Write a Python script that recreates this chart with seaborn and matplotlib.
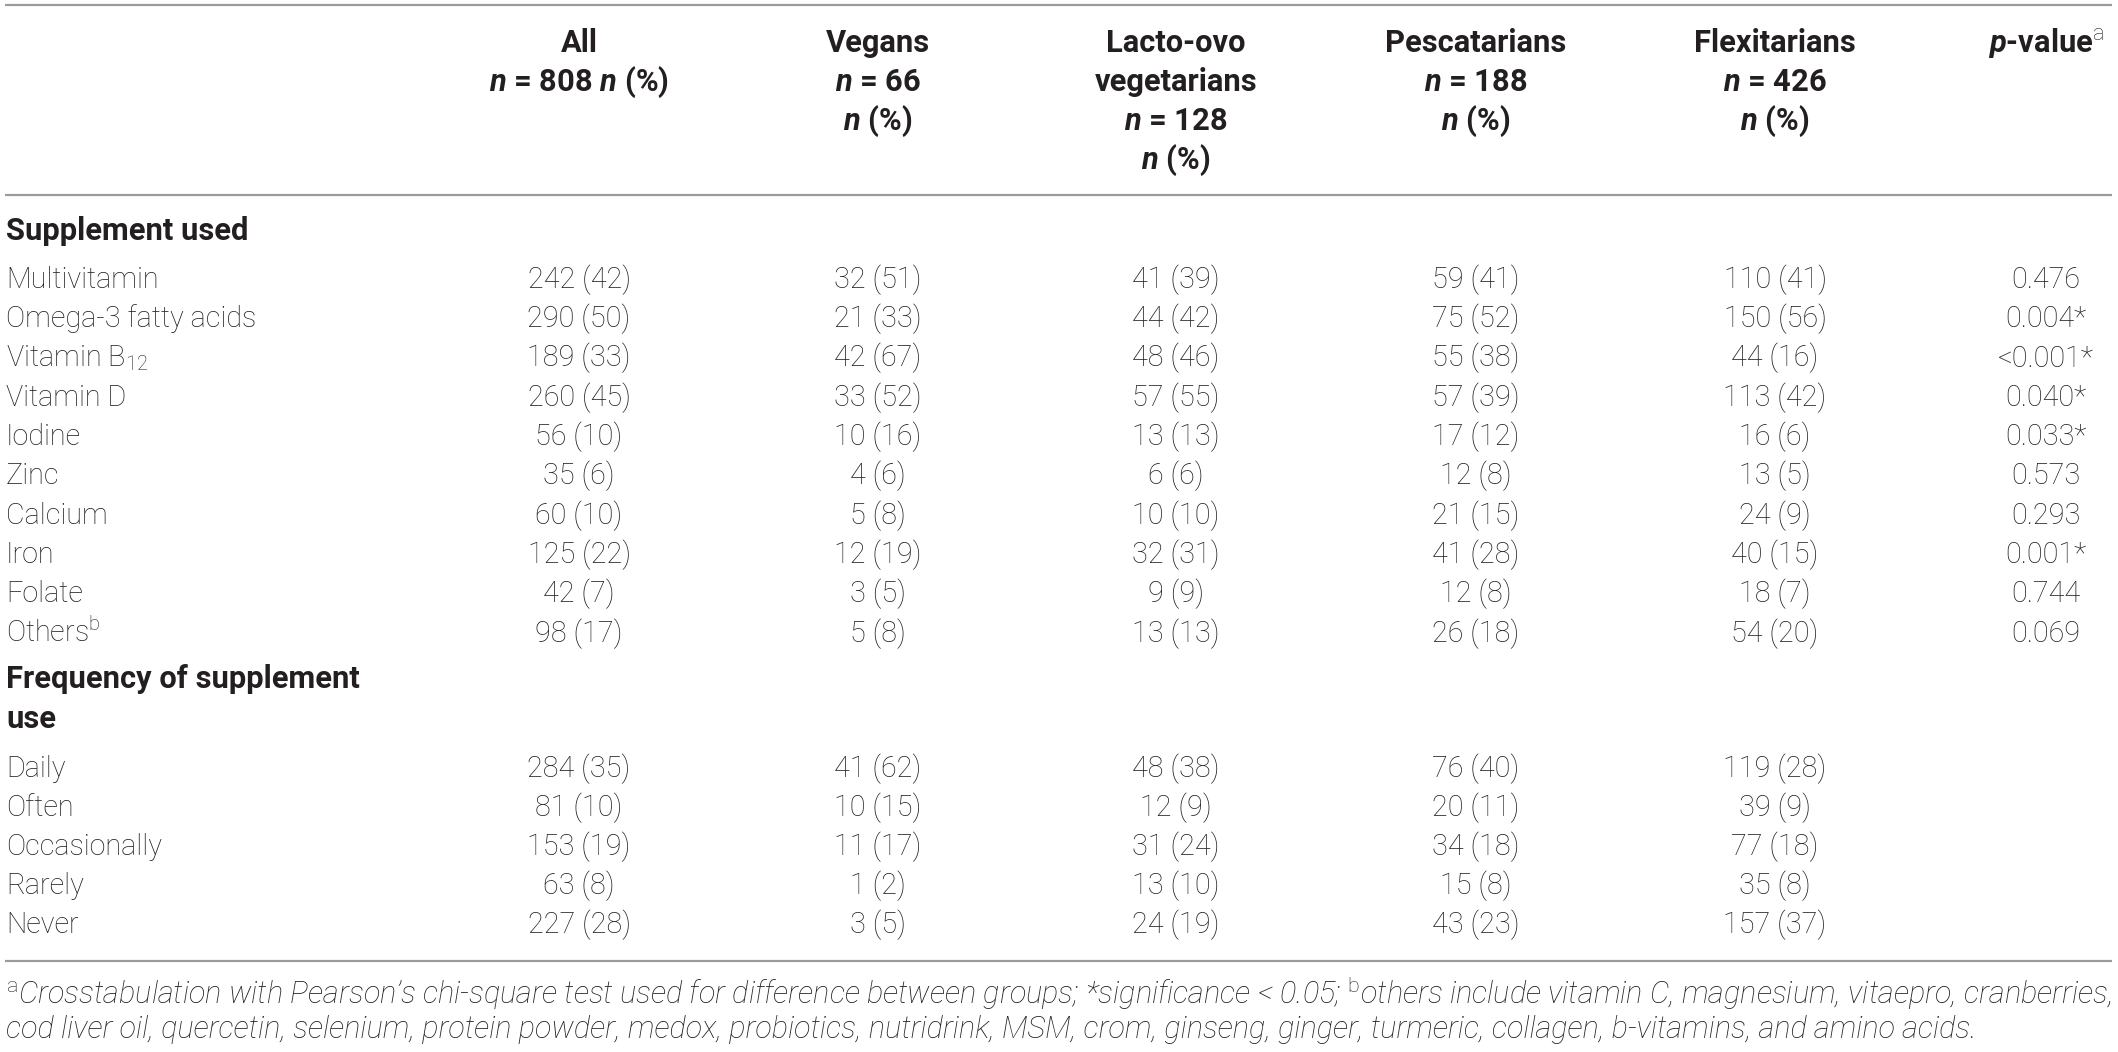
import matplotlib
matplotlib.use("Agg")
import matplotlib.pyplot as plt
import seaborn as sns

# table content
col_headers = [
    ["All", r"$\mathbfit{n}$ = 808 $\mathbfit{n}$ (%)"],
    ["Vegans", r"$\mathbfit{n}$ = 66", r"$\mathbfit{n}$ (%)"],
    ["Lacto-ovo", "vegetarians", r"$\mathbfit{n}$ = 128", r"$\mathbfit{n}$ (%)"],
    ["Pescatarians", r"$\mathbfit{n}$ = 188", r"$\mathbfit{n}$ (%)"],
    ["Flexitarians", r"$\mathbfit{n}$ = 426", r"$\mathbfit{n}$ (%)"],
    [r"$\mathbfit{p}$-value$^{\mathrm{a}}$"],
]

supp_labels = ["Multivitamin", "Omega-3 fatty acids", r"Vitamin B$_{\mathrm{12}}$", "Vitamin D",
               "Iodine", "Zinc", "Calcium", "Iron", "Folate", r"Others$^{\mathrm{b}}$"]
supp_all_n = [242, 290, 189, 260, 56, 35, 60, 125, 42, 98]
supp_all_pct = [42, 50, 33, 45, 10, 6, 10, 22, 7, 17]
supp_vegan_n = [32, 21, 42, 33, 10, 4, 5, 12, 3, 5]
supp_vegan_pct = [51, 33, 67, 52, 16, 6, 8, 19, 5, 8]
supp_lacto_n = [41, 44, 48, 57, 13, 6, 10, 32, 9, 13]
supp_lacto_pct = [39, 42, 46, 55, 13, 6, 10, 31, 9, 13]
supp_pesc_n = [59, 75, 55, 57, 17, 12, 21, 41, 12, 26]
supp_pesc_pct = [41, 52, 38, 39, 12, 8, 15, 28, 8, 18]
supp_flex_n = [110, 150, 44, 113, 16, 13, 24, 40, 18, 54]
supp_flex_pct = [41, 56, 16, 42, 6, 5, 9, 15, 7, 20]
p_values = ["0.476", "0.004*", "<0.001*", "0.040*", "0.033*", "0.573", "0.293", "0.001*", "0.744", "0.069"]

freq_labels = ["Daily", "Often", "Occasionally", "Rarely", "Never"]
freq_all_n = [284, 81, 153, 63, 227]
freq_all_pct = [35, 10, 19, 8, 28]
freq_vegan_n = [41, 10, 11, 1, 3]
freq_vegan_pct = [62, 15, 17, 2, 5]
freq_lacto_n = [48, 12, 31, 13, 24]
freq_lacto_pct = [38, 9, 24, 10, 19]
freq_pesc_n = [76, 20, 34, 15, 43]
freq_pesc_pct = [40, 11, 18, 8, 23]
freq_flex_n = [119, 39, 77, 35, 157]
freq_flex_pct = [28, 9, 18, 8, 37]

footnote_1 = (r"$^{\mathrm{a}}$Crosstabulation with Pearson’s chi-square test used for difference between groups; "
              r"*significance < 0.05; $^{\mathrm{b}}$others include vitamin C, magnesium, vitaepro, cranberries,")
footnote_2 = ("cod liver oil, quercetin, selenium, protein powder, medox, probiotics, nutridrink, MSM, crom, "
              "ginseng, ginger, turmeric, collagen, b-vitamins, and amino acids.")

sns.set_theme(style="white")
FONT = "Roboto"
plt.rcParams["font.family"] = [FONT, "DejaVu Sans"]
plt.rcParams["mathtext.fontset"] = "custom"
plt.rcParams["mathtext.rm"] = FONT + ":light"
plt.rcParams["mathtext.it"] = FONT + ":italic:light"
plt.rcParams["mathtext.bf"] = FONT + ":bold"
plt.rcParams["mathtext.bfit"] = FONT + ":italic:bold"

W, H = 2118, 1052
fig = plt.figure(figsize=(W / 100, H / 100), dpi=100)
ax = fig.add_axes([0, 0, 1, 1])
ax.set_xlim(0, W)
ax.set_ylim(H, 0)
ax.axis("off")

ink = "#231f20"
col_x = [579, 878, 1176, 1476, 1775, 2046]
left_x = 6


def fit_size(s, target_px, **kw):
    # font size (pt) that makes string s target_px wide
    t = ax.text(0, 0, s, fontsize=20, **kw)
    fig.canvas.draw()
    w = t.get_window_extent().width
    t.remove()
    return 20 * target_px / w


body_kw = dict(fontweight="light", color=ink)
head_kw = dict(fontweight="bold", color=ink)
body_fs = fit_size("Omega-3 fatty acids", 250, **body_kw)
head_fs = fit_size("Supplement used", 242, **head_kw)

# rules
ax.hlines([5, 195, 961], 5, 2112, color="#9b9b9b", lw=1.6)

# column headers
for x, lines in zip(col_x, col_headers):
    for j, line in enumerate(lines):
        ax.text(x, 52 + 39 * j, line, ha="center", va="baseline", fontsize=head_fs, **head_kw)


def draw_block(y0, labels, groups, pvals=None, step=39.3):
    for i, lab in enumerate(labels):
        y = y0 + step * i
        ax.text(left_x, y, lab, ha="left", va="baseline", fontsize=body_fs, **body_kw)
        for x, (ns, ps) in zip(col_x, groups):
            ax.text(x, y, f"{ns[i]} ({ps[i]})", ha="center", va="baseline",
                    fontsize=body_fs, **body_kw)
        if pvals is not None:
            ax.text(col_x[-1], y, pvals[i], ha="center", va="baseline",
                    fontsize=body_fs, **body_kw)


# section 1
ax.text(left_x, 240, "Supplement used", ha="left", va="baseline", fontsize=head_fs, **head_kw)
draw_block(288, supp_labels,
           [(supp_all_n, supp_all_pct), (supp_vegan_n, supp_vegan_pct),
            (supp_lacto_n, supp_lacto_pct), (supp_pesc_n, supp_pesc_pct),
            (supp_flex_n, supp_flex_pct)],
           p_values)

# section 2
ax.text(left_x, 688, "Frequency of supplement", ha="left", va="baseline", fontsize=head_fs, **head_kw)
ax.text(left_x, 728, "use", ha="left", va="baseline", fontsize=head_fs, **head_kw)
draw_block(777, freq_labels,
           [(freq_all_n, freq_all_pct), (freq_vegan_n, freq_vegan_pct),
            (freq_lacto_n, freq_lacto_pct), (freq_pesc_n, freq_pesc_pct),
            (freq_flex_n, freq_flex_pct)],
           step=39.1)

# footnotes, sized so the first line spans the table width
foot_kw = dict(style="italic", fontweight="light", color=ink)
foot_fs = fit_size(footnote_1, 2104, **foot_kw)
ax.text(left_x, 1004, footnote_1, ha="left", va="baseline", fontsize=foot_fs, **foot_kw)
ax.text(left_x, 1038, footnote_2, ha="left", va="baseline", fontsize=foot_fs, **foot_kw)

fig.savefig("out.png", dpi=100)
